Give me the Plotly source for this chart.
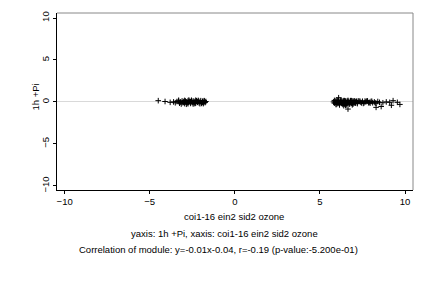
import plotly.graph_objects as go

# Cluster near negative x
x1 = [-4.5, -4.1, -3.8, -3.6, -3.5, -3.4, -3.3, -3.25, -3.2, -3.1, -3.05, -3.0, -2.95, -2.9, -2.85, -2.8,
      -2.75, -2.7, -2.65, -2.6, -2.55, -2.5, -2.45, -2.4, -2.35, -2.3, -2.25, -2.2, -2.15, -2.1, -2.05,
      -2.0, -1.95, -1.9, -1.85, -1.8, -1.75, -1.7, -3.15, -2.95, -2.75, -2.55, -2.35, -2.15, -1.95, -1.8,
      -3.0, -2.6, -2.2, -1.9, -2.85, -2.45, -2.05, -1.75, -3.3, -2.7, -2.3, -1.85]
y1 = [0.15, 0.05, -0.05, 0.0, -0.1, 0.05, 0.1, -0.15, 0.0, 0.12, -0.1, 0.05, -0.2, 0.1, 0.0, -0.12,
      0.15, -0.05, 0.08, -0.18, 0.1, -0.08, 0.12, -0.1, 0.05, -0.15, 0.14, -0.05, 0.1, -0.12, 0.05,
      0.15, -0.1, 0.08, -0.05, 0.12, -0.08, 0.05, -0.25, 0.18, -0.22, 0.2, -0.2, 0.18, -0.18, 0.15,
      -0.02, 0.02, 0.0, -0.02, -0.28, -0.25, -0.22, 0.0, 0.2, 0.22, 0.2, -0.2]

# Cluster near positive x
x2 = [5.8, 5.85, 5.9, 5.95, 6.0, 6.05, 6.1, 6.15, 6.2, 6.25, 6.3, 6.35, 6.4, 6.45, 6.5, 6.55, 6.6, 6.65,
      6.7, 6.75, 6.8, 6.85, 6.9, 6.95, 7.0, 7.05, 7.1, 7.15, 7.2, 7.3, 7.4, 7.5, 7.6, 7.7, 7.8, 7.9, 8.0,
      8.1, 8.2, 8.3, 8.4, 8.5, 8.7, 8.9, 9.1, 9.3, 9.55,
      5.85, 5.95, 6.05, 6.15, 6.25, 6.35, 6.45, 6.55, 6.65, 6.75, 6.85, 6.95, 7.05, 7.2, 7.35, 7.55, 7.75, 7.95,
      5.9, 6.0, 6.1, 6.2, 6.3, 6.4, 6.5, 6.6, 6.7, 6.8, 6.9, 7.0, 7.1, 7.25, 7.45, 7.65, 7.85, 8.05, 8.25,
      6.1, 6.65, 8.3, 8.6, 9.2, 9.7, 6.4, 6.9]
y2 = [0.0, -0.15, 0.1, -0.25, 0.05, -0.2, 0.12, -0.3, 0.0, -0.15, 0.1, -0.2, 0.05, -0.25, 0.1, -0.1, 0.0,
      -0.2, 0.08, -0.12, 0.05, -0.15, 0.1, -0.05, 0.05, -0.1, 0.0, 0.08, -0.08, 0.05, -0.05, 0.08, -0.1, 0.0,
      0.12, -0.05, 0.05, -0.1, 0.0, -0.15, 0.05, -0.05, -0.1, 0.0, -0.05, 0.15, -0.05,
      0.18, -0.32, 0.15, -0.35, 0.2, -0.3, 0.15, -0.35, 0.18, -0.28, 0.15, -0.25, 0.12, -0.2, 0.1, -0.18, 0.1, -0.15,
      -0.05, 0.2, -0.1, 0.18, -0.05, 0.15, -0.4, 0.12, -0.05, 0.15, -0.2, 0.1, -0.15, 0.12, -0.12, 0.1, -0.1, 0.08, -0.12,
      0.5, -0.85, -0.65, -0.55, -0.4, -0.3, -0.45, -0.35]

x_ticks = [-10, -5, 0, 5, 10]
y_ticks = [-10, -5, 0, 5, 10]

FONT = "Liberation Sans, Arial, sans-serif"
FS = 9.5

fig = go.Figure()
fig.add_trace(go.Scatter(x=x1 + x2, y=y1 + y2, mode="markers",
                         marker=dict(symbol="cross-thin-open", size=4, color="black",
                                     line=dict(color="black", width=1)),
                         hoverinfo="skip", showlegend=False))

fig.update_layout(
    width=432, height=288,
    margin=dict(l=57, r=19, t=13, b=98),
    paper_bgcolor="white", plot_bgcolor="white",
    font=dict(family=FONT, size=FS, color="black"),
    xaxis=dict(range=[-10.45, 10.47], tickvals=x_ticks, showgrid=False, zeroline=False,
               showline=True, linecolor="black", linewidth=1, ticks="outside", ticklen=3,
               tickcolor="black", tickfont=dict(size=FS)),
    yaxis=dict(range=[-10.5, 10.6], tickvals=y_ticks, showgrid=False, zeroline=True,
               zerolinecolor="#d9d9d9", zerolinewidth=1,
               showline=True, linecolor="black", linewidth=1, ticks="outside", ticklen=3,
               tickcolor="black", tickangle=-90, tickfont=dict(size=FS)),
    shapes=[
        dict(type="line", xref="paper", yref="paper", x0=0, x1=1, y0=1, y1=1,
             line=dict(color="#888888", width=1)),
        dict(type="line", xref="paper", yref="paper", x0=1, x1=1, y0=0, y1=1,
             line=dict(color="#888888", width=1)),
    ],
    annotations=[
        dict(text="coi1-16 ein2 sid2 ozone", xref="paper", yref="paper", x=0.5, y=0,
             xshift=-1.5, yanchor="middle", yshift=-26, showarrow=False, font=dict(size=FS)),
        dict(text="yaxis: 1h +Pi, xaxis: coi1-16 ein2 sid2 ozone", xref="paper", yref="paper",
             x=0.5, y=0, xshift=-10.5, yanchor="middle", yshift=-43, showarrow=False,
             font=dict(size=FS)),
        dict(text="Correlation of module: y=-0.01x-0.04, r=-0.19 (p-value:-5.200e-01)",
             xref="paper", yref="paper", x=0.5, y=0, xshift=-16.5, yanchor="middle", yshift=-59,
             showarrow=False, font=dict(size=FS)),
        dict(text="1h +Pi", xref="paper", yref="paper", x=0, y=0.5, xanchor="center",
             xshift=-22, yshift=4, textangle=-90, showarrow=False, font=dict(size=FS)),
    ],
)

fig.write_html("out.html")
